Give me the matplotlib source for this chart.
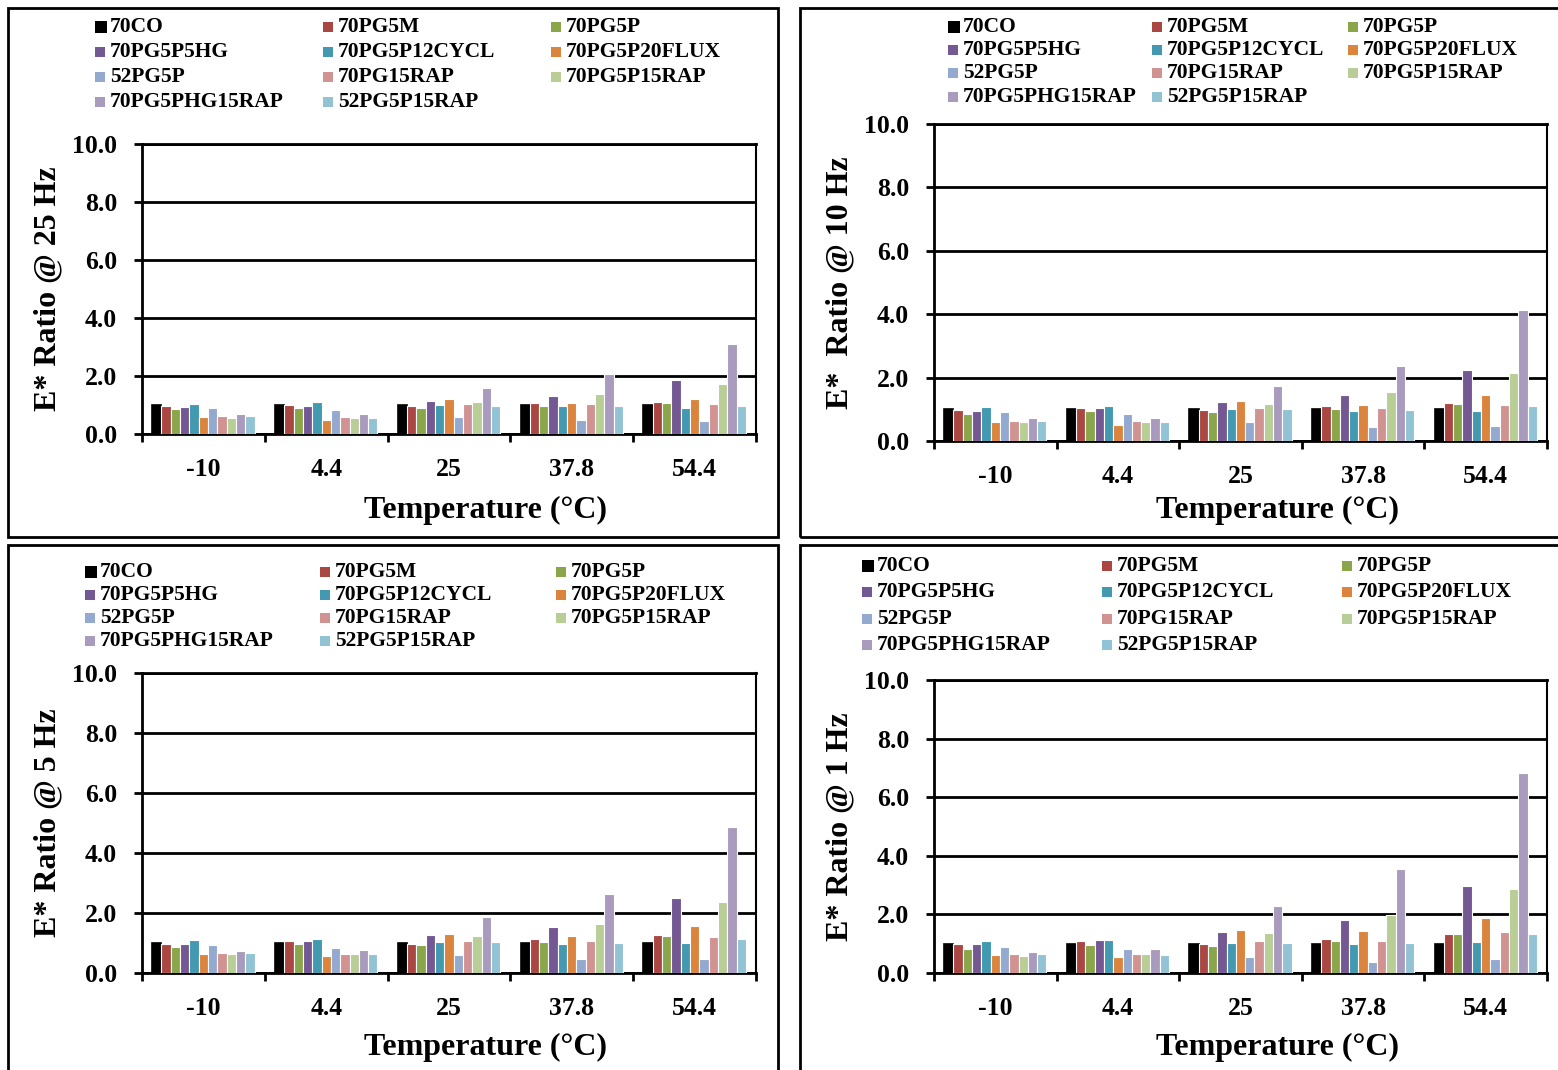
import numpy as np
import matplotlib
matplotlib.use("Agg")
import matplotlib.pyplot as plt
from matplotlib.patches import Rectangle

plt.rcParams['font.family'] = ['Liberation Serif', 'DejaVu Serif']
plt.rcParams['font.weight'] = 'bold'

temps = ['-10', '4.4', '25', '37.8', '54.4']
mixes = ['70CO', '70PG5M', '70PG5P',
         '70PG5P5HG', '70PG5P12CYCL', '70PG5P20FLUX',
         '52PG5P', '70PG15RAP', '70PG5P15RAP',
         '70PG5PHG15RAP', '52PG5P15RAP']
colors = ['#000000', '#AB4743', '#8AA64B',
          '#735893', '#4299B0', '#DB843D',
          '#93A9CF', '#D19392', '#B9CD96',
          '#A99BBD', '#92C3D4']

# E* ratio per mix (rows) at each temperature (columns)
ratio_25hz = [
    [1.00, 1.00, 1.00, 1.00, 1.00],
    [0.95, 1.01, 0.95, 1.06, 1.12],
    [0.85, 0.91, 0.88, 0.95, 1.07],
    [0.92, 0.98, 1.14, 1.30, 1.85],
    [1.05, 1.11, 1.00, 0.95, 0.91],
    [0.59, 0.50, 1.19, 1.06, 1.21],
    [0.90, 0.83, 0.59, 0.47, 0.45],
    [0.61, 0.59, 1.03, 1.03, 1.05],
    [0.56, 0.56, 1.10, 1.38, 1.74],
    [0.69, 0.69, 1.60, 2.06, 3.11],
    [0.61, 0.56, 0.98, 0.95, 0.98],
]
ratio_10hz = [
    [1.00, 1.00, 1.00, 1.00, 1.00],
    [0.98, 1.03, 0.97, 1.09, 1.21],
    [0.86, 0.94, 0.91, 1.02, 1.17],
    [0.95, 1.04, 1.22, 1.45, 2.24],
    [1.07, 1.11, 1.02, 0.96, 0.95],
    [0.60, 0.52, 1.25, 1.15, 1.45],
    [0.91, 0.84, 0.59, 0.45, 0.46],
    [0.64, 0.62, 1.05, 1.05, 1.15],
    [0.59, 0.60, 1.17, 1.53, 2.16],
    [0.71, 0.73, 1.74, 2.37, 4.14],
    [0.63, 0.59, 1.01, 0.98, 1.09],
]
ratio_5hz = [
    [1.00, 1.00, 1.00, 1.00, 1.00],
    [0.98, 1.06, 0.98, 1.13, 1.27],
    [0.87, 0.96, 0.93, 1.05, 1.25],
    [0.97, 1.07, 1.27, 1.53, 2.49],
    [1.09, 1.13, 1.02, 0.98, 1.01],
    [0.63, 0.56, 1.30, 1.24, 1.56],
    [0.93, 0.84, 0.60, 0.46, 0.48],
    [0.67, 0.65, 1.07, 1.06, 1.21],
    [0.62, 0.63, 1.23, 1.63, 2.36],
    [0.74, 0.76, 1.87, 2.63, 4.88],
    [0.67, 0.62, 1.02, 1.01, 1.12],
]
ratio_1hz = [
    [1.00, 1.00, 1.00, 1.00, 1.00],
    [0.98, 1.08, 0.98, 1.16, 1.34],
    [0.82, 0.96, 0.93, 1.09, 1.33],
    [0.99, 1.13, 1.40, 1.81, 2.98],
    [1.08, 1.12, 1.03, 0.99, 1.06],
    [0.61, 0.54, 1.46, 1.43, 1.87],
    [0.90, 0.81, 0.54, 0.39, 0.47],
    [0.65, 0.65, 1.08, 1.09, 1.40],
    [0.59, 0.64, 1.35, 1.98, 2.85],
    [0.72, 0.81, 2.27, 3.56, 6.82],
    [0.64, 0.61, 1.04, 1.04, 1.33],
]

W, H = 1558, 1070
fig = plt.figure(figsize=(W / 100, H / 100), dpi=100)


def fx(x):
    return x / W


def fy(y):
    return 1 - y / H


# panel settings: data, ylabel, box, axes box (px), legend cols / rows, label spots
panels = [
    dict(data=ratio_25hz, ylab='E* Ratio @ 25 Hz', box=(8, 8, 778, 537),
         ax=(142, 144, 756, 434), lx=(95, 323, 551), ly=(27, 52, 77, 102),
         ylx=48, xlx=486, xly=510),
    dict(data=ratio_10hz, ylab='E*  Ratio @ 10 Hz', box=(800, 8, 1570, 537),
         ax=(934, 124, 1547, 441), lx=(948, 1152, 1348), ly=(27, 50, 73, 97),
         ylx=840, xlx=1278, xly=510),
    dict(data=ratio_5hz, ylab='E* Ratio @ 5 Hz', box=(8, 545, 778, 1080),
         ax=(142, 673, 756, 973), lx=(85, 320, 556), ly=(572, 595, 618, 641),
         ylx=48, xlx=486, xly=1047),
    dict(data=ratio_1hz, ylab='E* Ratio @ 1 Hz', box=(800, 545, 1570, 1080),
         ax=(934, 680, 1547, 973), lx=(862, 1102, 1342), ly=(566, 592, 619, 645),
         ylx=840, xlx=1278, xly=1047),
]

x = np.arange(len(temps))
n = len(mixes)
bw = 0.835 / n

for p in panels:
    # panel frame
    bx0, by0, bx1, by1 = p['box']
    fig.patches.append(Rectangle((fx(bx0), fy(by1)), fx(bx1 - bx0), (by1 - by0) / H,
                                 transform=fig.transFigure, fill=False,
                                 edgecolor='black', lw=2))

    l, t, r, b = p['ax']
    ax = fig.add_axes([fx(l), fy(b), fx(r - l), (b - t) / H])
    data = np.array(p['data'])
    for i in range(n):
        pos = x - 0.835 / 2 + bw * (i + 0.5)
        ec = 'black' if i == 0 else 'white'
        lw = 1.2 if i == 0 else 0.8
        ax.bar(pos, data[i], width=bw, color=colors[i], edgecolor=ec, lw=lw, zorder=3)

    ax.set_xlim(-0.5, 4.5)
    ax.set_ylim(0, 10)
    ax.set_yticks(np.arange(0, 10.1, 2))
    ax.set_yticklabels(['%.1f' % v for v in np.arange(0, 10.1, 2)])
    ax.yaxis.grid(True, color='black', lw=2, zorder=1)
    ax.set_xticks(x)
    ax.set_xticklabels(temps)
    ax.set_xticks(np.arange(-0.5, 5, 1), minor=True)
    ax.tick_params(axis='x', which='major', length=0, pad=17, labelsize=18.5)
    ax.tick_params(axis='x', which='minor', length=6, width=2, direction='out')
    ax.tick_params(axis='y', length=6, width=2, direction='out', pad=12, labelsize=18.5)
    for s in ['left', 'bottom']:
        ax.spines[s].set_linewidth(2)
    ax.spines['right'].set_linewidth(1.5)
    ax.spines['top'].set_linewidth(2)
    for lab in ax.get_xticklabels() + ax.get_yticklabels():
        lab.set_fontweight('bold')

    fig.text(fx(p['ylx']), fy((t + b) / 2), p['ylab'], rotation=90, ha='center',
             va='center', fontsize=23, fontweight='bold')
    fig.text(fx(p['xlx']), fy(p['xly']), 'Temperature (°C)', ha='center',
             va='center', fontsize=23, fontweight='bold')

    # legend, three columns
    for i, name in enumerate(mixes):
        cx = p['lx'][i % 3]
        cy = p['ly'][i // 3]
        sz = 12 if i == 0 else 10
        fig.patches.append(Rectangle((fx(cx), fy(cy + sz / 2)), sz / W, sz / H,
                                     transform=fig.transFigure, facecolor=colors[i],
                                     edgecolor='none'))
        fig.text(fx(cx + 15), fy(cy), name, ha='left', va='center',
                 fontsize=15.5, fontweight='bold')

fig.savefig('out.png', dpi=100)
